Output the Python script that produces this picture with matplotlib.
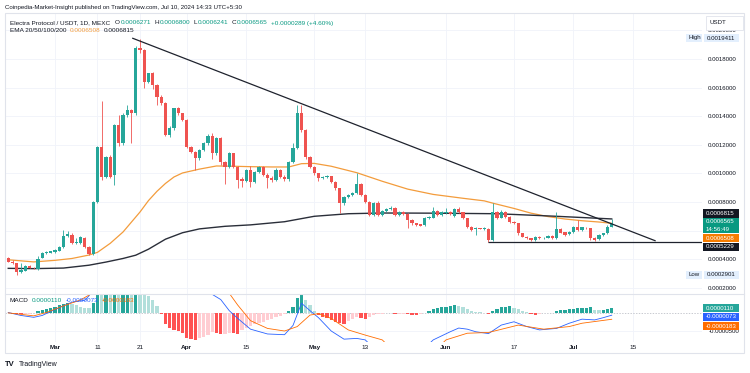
import numpy as np
import matplotlib
matplotlib.use("Agg")
import matplotlib.pyplot as plt
from matplotlib.patches import Rectangle
from matplotlib.lines import Line2D
from matplotlib.ticker import FuncFormatter

plt.rcParams["font.family"] = ["Liberation Sans", "DejaVu Sans"]

W, H = 750, 373
U = 1e-6  # every price / indicator list below is in millionths of a USDT

# ---- daily candles, ELEC/USDT (MEXC), first candle = 19 Feb 2024 ----
first_day = -11  # days counted from 1 Mar 2024
opens = [406, 383, 370, 310, 320, 350, 341, 330, 410, 440,
         445, 450, 460, 483, 562, 572, 515, 511, 546, 488,
         436, 802, 1182, 977, 1117, 990, 1338, 1210, 1408, 1443,
         1420, 1875, 1863, 1641, 1700, 1618, 1537, 1490, 1268, 1315,
         1455, 1420, 1373, 1187, 1152, 1105, 1163, 1210, 1262, 1140,
         1245, 1082, 1047, 1140, 1047, 960, 945, 1023, 942, 1010,
         1047, 989, 965, 955, 1023, 975, 958, 1082, 1175, 1420,
         1304, 1117, 1047, 1000, 965, 972, 982, 942, 896, 791,
         837, 849, 861, 926, 849, 802, 709, 795, 709, 736,
         752, 760, 712, 728, 716, 674, 651, 643, 640, 688,
         690, 737, 712, 720, 728, 700, 751, 728, 686, 627,
         610, 616, 612, 612, 535, 732, 690, 732, 697, 662,
         651, 581, 558, 546, 536, 556, 548, 550, 562, 548,
         609, 588, 576, 588, 627, 606, 620, 616, 550, 538,
         566, 581, 627.1]
highs = [415, 392, 374, 376, 360, 356, 348, 422, 450, 455,
         460, 470, 495, 604, 600, 585, 545, 565, 555, 495,
         810, 1190, 1508, 1125, 1130, 1345, 1410, 1420, 1480, 1450,
         1890, 1941.1, 1870, 1705, 1710, 1625, 1545, 1500, 1330, 1460,
         1465, 1425, 1380, 1195, 1160, 1170, 1220, 1275, 1285, 1255,
         1255, 1090, 1150, 1145, 1055, 975, 1030, 1050, 1020, 1055,
         1050, 1000, 985, 1040, 1030, 990, 1090, 1215, 1478, 1478,
         1310, 1125, 1055, 1005, 985, 990, 985, 948, 900, 845,
         855, 870, 1000, 935, 855, 810, 800, 805, 745, 760,
         770, 767, 735, 735, 720, 678, 655, 648, 695, 705,
         767, 742, 735, 760, 735, 758, 767, 732, 690, 632,
         625, 620, 626, 618, 791, 738, 745, 740, 702, 668,
         656, 585, 562, 550, 562, 560, 556, 566, 572, 732,
         615, 592, 596, 632, 674, 628, 626, 620, 558, 574,
         586, 640, 680]
lows = [378, 366, 290.1, 300, 315, 338, 333, 325, 405, 435,
        440, 445, 455, 478, 555, 505, 505, 505, 480, 430,
        430, 790, 955, 965, 970, 919, 1195, 1200, 1395, 1210,
        1410, 1845, 1600, 1630, 1590, 1480, 1480, 1260, 1255, 1300,
        1410, 1365, 1180, 1140, 1025, 1095, 1155, 1200, 1100, 1130,
        1060, 925, 1040, 1035, 895, 905, 940, 907, 935, 1000,
        980, 895, 940, 950, 965, 950, 950, 1075, 1170, 1290,
        1100, 1035, 990, 950, 960, 965, 935, 885, 720, 780,
        830, 845, 855, 840, 795, 700, 700, 700, 700, 730,
        745, 700, 705, 710, 620, 640, 632, 630, 635, 682,
        685, 702, 705, 715, 710, 695, 720, 680, 620, 598,
        570, 608, 606, 522.9, 525, 680, 685, 690, 655, 645,
        570, 552, 540, 530, 530, 542, 543, 546, 540, 540,
        580, 562, 570, 582, 598, 600, 610, 535, 525, 532,
        560, 576, 624.1]
closes = [383, 370, 310, 325, 350, 341, 336, 400, 446, 450,
          455, 464, 488, 562, 575, 511, 522, 558, 488, 436,
          802, 1182, 977, 1117, 977, 1338, 1210, 1408, 1443, 1420,
          1875, 1863, 1641, 1700, 1618, 1537, 1490, 1268, 1315, 1455,
          1420, 1373, 1187, 1152, 1105, 1163, 1210, 1262, 1140, 1245,
          1082, 1047, 1140, 1047, 954, 945, 1023, 942, 1010, 1047,
          989, 965, 955, 1023, 975, 958, 1082, 1175, 1420, 1304,
          1117, 1047, 1000, 965, 972, 982, 942, 896, 791, 837,
          849, 861, 926, 849, 802, 709, 795, 709, 736, 752,
          760, 709, 728, 718, 674, 651, 640, 635, 690, 697,
          737, 710, 728, 732, 716, 751, 728, 686, 627, 604,
          618, 614, 620, 535, 732, 690, 732, 697, 662, 651,
          581, 558, 546, 536, 556, 548, 551, 562, 548, 609,
          585, 570, 590, 627, 604, 622, 616, 546, 536, 569,
          581, 627.1, 656.5]

# EMA lines (orange = 0.0006508, dark = 0.0006815 at the last bar)
ema_fast_days = [-11, -5, 0, 4, 8, 10, 13, 16, 18, 20, 22, 24, 26, 28, 30, 34, 38, 42, 46,
                 51, 55, 58, 61, 65, 71, 77, 83, 89, 96, 101, 103, 108, 112, 116, 120, 124, 128, 131]
ema_fast = [396, 381, 392, 405, 429, 448, 511, 590, 660, 730, 810, 875, 930, 975, 1003, 1030, 1052,
            1050, 1047, 1045, 1045, 1068, 1070, 1050, 1005, 945, 890, 853, 826, 808, 792, 755,
            722, 698, 681, 669, 660, 650.8]
ema_slow_days = [-11, -5, 2, 8, 12, 16, 19, 22, 26, 30, 34, 40, 46, 54, 61, 69, 77, 88, 104, 118, 131]
ema_slow = [336, 334, 338, 358, 380, 405, 428, 470, 540, 585, 612, 630, 640, 662, 700, 718, 723,
            722, 718, 700, 681.5]

# drawn trendlines
trend_days = [18.3, 141.2]
trend_vals = [1944.8, 529.4]
support_day = 102
support_val = 522.9

# MACD pane
hist = [-2, -3, -4, -5, -4, -3, -1, 4, 7, 10,
        13, 16, 19, 23, 27, 22, 19, 16, 13, 11,
        26, 70, 66, 67, 63, 70, 67, 72, 75, 72,
        85, 82, 55, 44, 33, 18, -5, -30, -43, -46,
        -50, -56, -70, -72, -74, -70, -67, -60, -54, -56,
        -58, -57, -55, -56, -58, -48, -42, -36, -32, -29,
        -25, -21, -17, -13, -9, -4, 5, 14, 38, 47,
        35, 20, 3, -7, -11, -16, -20, -25, -29, -31,
        -22, -17, -12, -15, -18, -12, -8, -5, -3, -2,
        -1.5, -5, -4, -3, -5, -6, -7, -4, -1, 5,
        8.6, 11, 14, 16, 17.6, 20, 17.6, 14, 8.6, 5,
        2.7, 1, -2, -4, 5, 9, 14, 16, 16.5, 11,
        8.6, 5, 2, -5, -6, -3, -2, -2, -1, 5,
        6, 8, 9, 10, 12, 13, 13, 14, 8, 6,
        7, 9, 11]
macd_days = [-11, -8, -5, -3, -1, 1, 4, 7, 8, 9, 11, 15, 20, 26, 31, 34, 36, 39, 41, 43,
             46, 50, 54, 56, 58, 60, 62, 65, 68, 71, 73, 74, 80, 87, 88, 89, 93, 95, 97, 99,
             102, 105, 108, 111, 114, 118, 121, 124, 127, 129, 131]
macd_line = [0, -8, -13, -8, 3, 13, 28, 33, 45, 65, 130, 190, 260, 180, 110, 75, 56, 35, 5, -16,
             -45, -58, -60, -35, 25, 5, -14, -50, -72, -70, -74, -85, -100, -90, -85, -74, -52, -42,
             -45, -52, -57, -34, -25, -38, -47, -43, -29, -18, -20, -14, -7.3]
signal_days = [-11, -5, -2, 2, 6, 8, 9, 12, 18, 24, 30, 36, 40, 41, 43, 46, 50, 54, 57, 60,
               62, 65, 69, 73, 77, 78, 85, 91, 92, 97, 102, 109, 115, 121, 124, 131]
signal_line = [-1, -9, 0, 18, 34, 47, 55, 100, 180, 230, 190, 120, 62, 52, 20, -22, -43, -50, -38, -7,
               -3, -16, -47, -61, -74, -85, -100, -85, -74, -56, -54, -34, -45, -38, -29, -18.3]

date_ticks = [0, 10, 20, 31, 45, 61, 73, 92, 108, 122, 136]
date_labels = ["Mar", "11", "21", "Apr", "15", "May", "13", "Jun", "17", "Jul", "15"]
months = {"Mar", "Apr", "May", "Jun", "Jul"}
price_ticks = [0.0002, 0.0004, 0.0006, 0.0008, 0.0010, 0.0012, 0.0014, 0.0016, 0.0018, 0.0020]
hidden_ticks = [0.0006]  # covered by the last-value tags on the price scale

# ---- styling ----
UP, DOWN = "#26a69a", "#ef5350"
TEAL_TXT = "#089981"
DARK = "#131722"
GRID = "#f0f3fa"
BORDER = "#e0e3eb"
EMA_FAST_C = "#f39c3c"
EMA_SLOW_C = "#2a2e39"
MACD_C, SIGNAL_C = "#2962ff", "#ff6d00"
XLIM = (-11.765, 152.24)


def fxy(x, y):
    return x / W, 1 - y / H


def price_fmt(v, _):
    if any(abs(v - h) < 1e-9 for h in hidden_ticks):
        return ""
    return f"{v:.7f}"


fig = plt.figure(figsize=(W / 100, H / 100), dpi=100)
fig.patch.set_facecolor("white")

ax = fig.add_axes([5 / W, 1 - 294 / H, 697 / W, 281 / H])
mx = fig.add_axes([5 / W, 1 - 342 / H, 697 / W, 48 / H])

days = np.arange(first_day, first_day + len(closes))
o = np.array(opens) * U
hi = np.array(highs) * U
lo = np.array(lows) * U
c = np.array(closes) * U
col = np.where(c >= o, UP, DOWN)

ax.vlines(days, lo, hi, colors=col, lw=0.6, zorder=3)
body = np.maximum(np.abs(c - o), 3.5 * U)
ax.bar(days, body, bottom=np.minimum(o, c), width=0.72, color=col, lw=0, zorder=4)

ax.plot(ema_fast_days, np.array(ema_fast) * U, color=EMA_FAST_C, lw=0.9, zorder=2)
ax.plot(ema_slow_days, np.array(ema_slow) * U, color=EMA_SLOW_C, lw=1.0, zorder=2)
ax.plot(trend_days, np.array(trend_vals) * U, color="#1e222d", lw=0.9, zorder=5)
ax.hlines(support_val * U, support_day, XLIM[1], color="#1e222d", lw=0.9, zorder=5)

ax.set_xlim(*XLIM)
ax.set_ylim(156.6 * U, 2121.7 * U)
ax.yaxis.tick_right()
ax.set_yticks(price_ticks)
ax.yaxis.set_major_formatter(FuncFormatter(price_fmt))
ax.tick_params(axis="y", length=0, pad=4.5, labelsize=4.4, labelcolor=DARK)
ax.set_xticks(date_ticks)
ax.tick_params(axis="x", length=0, labelbottom=False)
ax.grid(True, color=GRID, lw=0.6)
ax.set_axisbelow(True)
for s in ax.spines.values():
    s.set_visible(False)

# MACD histogram + lines
hv = np.array(hist)
prev = np.concatenate([[hv[0]], hv[:-1]])
hcol = np.where(hv >= 0,
                np.where(hv >= prev, "#26a69a", "#b2dfdb"),
                np.where(hv <= prev, "#ff5252", "#ffcdd2"))
mx.bar(days, hv * U, width=0.8, color=hcol, lw=0, zorder=2)
mx.plot(macd_days, np.array(macd_line) * U, color=MACD_C, lw=0.6, zorder=3)
mx.plot(signal_days, np.array(signal_line) * U, color=SIGNAL_C, lw=0.6, zorder=3)
mx.axhline(0, color="#b2b5be", lw=0.5, ls=(0, (2, 2)), zorder=1)
mx.set_xlim(*XLIM)
mx.set_ylim(-79.7 * U, 50 * U)
mx.yaxis.tick_right()
mx.set_yticks([-50 * U])
mx.yaxis.set_major_formatter(FuncFormatter(lambda v, _: f"{v:.7f}"))
mx.tick_params(axis="y", length=0, pad=4.5, labelsize=4.4, labelcolor=DARK)
mx.set_xticks(date_ticks)
mx.set_xticklabels(date_labels)
mx.tick_params(axis="x", length=0, pad=2, labelsize=4.6, labelcolor=DARK)
for lab in mx.get_xticklabels():
    if lab.get_text() in months:
        lab.set_fontweight("bold")
mx.grid(True, color=GRID, lw=0.6)
mx.set_axisbelow(True)
for s in mx.spines.values():
    s.set_visible(False)

# frame and pane separator
fig.add_artist(Rectangle(fxy(5, 353), 739 / W, 340 / H, transform=fig.transFigure,
                         fill=False, edgecolor=BORDER, lw=0.8, zorder=1))
fig.add_artist(Line2D([5 / W, 744 / W], [1 - 294 / H] * 2, transform=fig.transFigure,
                      color=BORDER, lw=0.8, zorder=1))

renderer = fig.canvas.get_renderer()


def put_row(x, y, pieces, size):
    # pieces: (text, colour, gap in pixels after it)
    for text, color, gap in pieces:
        t = fig.text(*fxy(x, y), text, color=color, fontsize=size, va="center", ha="left", zorder=6)
        x = t.get_window_extent(renderer=renderer).x1 + gap


def tag(y, text, bg, fg="white", x0=703, x1=739, h=8.5, size=4.4):
    fig.add_artist(Rectangle(fxy(x0, y + h / 2), (x1 - x0) / W, h / H, transform=fig.transFigure,
                             facecolor=bg, edgecolor="none", zorder=5))
    fig.text(*fxy(x0 + 2.5, y), text, color=fg, fontsize=size, va="center", ha="left", zorder=6)


# header and legends
fig.text(*fxy(5, 7.5), "Coinpedia-Market-Insight published on TradingView.com, Jul 10, 2024 14:33 UTC+5:30",
         fontsize=4.4, color=DARK, va="center")
put_row(10, 23, [("Electra Protocol / USDT, 1D, MEXC", DARK, 5),
                 ("O", DARK, 0.4), ("0.0006271", TEAL_TXT, 3.5),
                 ("H", DARK, 0.4), ("0.0006800", TEAL_TXT, 3.5),
                 ("L", DARK, 0.4), ("0.0006241", TEAL_TXT, 3.5),
                 ("C", DARK, 0.4), ("0.0006565", TEAL_TXT, 3.5),
                 ("+0.0000289 (+4.60%)", TEAL_TXT, 0)], 4.6)
put_row(10, 31, [("EMA 20/50/100/200", DARK, 3.5), ("0.0006508", EMA_FAST_C, 3.5),
                 ("0.0006815", DARK, 0)], 4.6)
put_row(10, 301, [("MACD", DARK, 3.5), ("0.0000110", TEAL_TXT, 3.5), ("-0.0000073", MACD_C, 3.5),
                  ("-0.0000183", SIGNAL_C, 0)], 4.6)

# price scale tags
fig.add_artist(Rectangle(fxy(706, 29.5), 37 / W, 13 / H, transform=fig.transFigure,
                         facecolor="white", edgecolor=BORDER, lw=0.6, zorder=5))
fig.text(*fxy(709.5, 23), "USDT", fontsize=4.4, color=DARK, va="center", zorder=6)
tag(38, "High", "#e3effd", fg=DARK, x0=686, x1=702)
tag(38, "0.0019411", "#e3effd", fg=DARK, x0=704)
tag(275, "Low", "#e3effd", fg=DARK, x0=686, x1=702)
tag(275, "0.0002901", "#e3effd", fg=DARK, x0=704)
tag(213.5, "0.0006815", "#131722")
tag(222, "0.0006565", "#089981", h=8)
tag(229.5, "14:56:49", "#089981", h=7.5)
tag(238, "0.0006508", "#f57c00")
tag(247, "0.0005229", "#131722")
tag(308, "0.0000110", "#26a69a")
tag(317, "-0.0000073", "#2962ff")
tag(326, "-0.0000183", "#ff6d00")

# TradingView footer
fig.text(*fxy(5, 365), "TV", fontsize=5.5, fontweight="bold", color=DARK, va="center")
fig.text(*fxy(18.5, 365), "TradingView", fontsize=5.0, color=DARK, va="center")

fig.savefig("out.png", dpi=100, facecolor="white")
